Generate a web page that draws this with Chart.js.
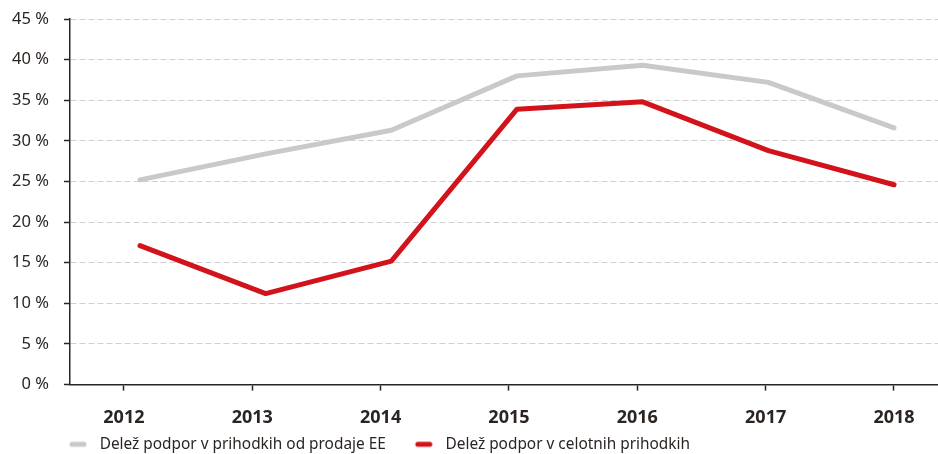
<!DOCTYPE html>
<html>
<head>
  <meta charset="utf-8">
  <title>Delež podpor</title>
  <script src="https://cdn.jsdelivr.net/npm/chart.js"></script>
  <style>
    html, body { margin: 0; padding: 0; background: #fff; }
    #wrap { width: 938px; height: 454px; }
  </style>
</head>
<body>
  <div id="wrap"><canvas id="myChart"></canvas></div>

  <script>
    // Podatki
    var years = ['2012', '2013', '2014', '2015', '2016', '2017', '2018'];
    var yTicks = [0, 5, 10, 15, 20, 25, 30, 35, 40, 45];
    var shareEE = [25.2, 28.4, 31.3, 38.0, 39.3, 37.2, 31.6];
    var shareTotal = [17.1, 11.2, 15.2, 33.9, 34.8, 28.8, 24.6];

    var textColor = '#2b2522';
    var grayColor = '#c8c9c8';
    var redColor = '#d3131b';

    function toPoints(arr) {
      return arr.map(function(v, i) { return { x: i, y: v }; });
    }

    // Oznaka v legendi: kratka zaobljena črta
    var MARK_W = 42;
    function legendMark(color) {
      var c = document.createElement('canvas');
      c.width = MARK_W;
      c.height = 8;
      var g = c.getContext('2d');
      g.strokeStyle = color;
      g.lineWidth = 5;
      g.lineCap = 'round';
      g.beginPath();
      g.moveTo(MARK_W - 20, 4);
      g.lineTo(MARK_W - 8, 4);
      g.stroke();
      return c;
    }

    // Nižja legenda, premaknjena levo in navzdol
    var legendShift = {
      id: 'legendShift',
      beforeLayout: function(chart) {
        var l = chart.legend;
        if (l && !l._patched) {
          var fit = l.fit;
          l.fit = function() { fit.call(this); this.height -= 6; };
          l._patched = true;
        }
      },
      afterLayout: function(chart) {
        var l = chart.legend;
        if (!l) return;
        l.left -= 30; l.right -= 30;
        l.top += 2; l.bottom += 2;
      }
    };

    var ctx = document.getElementById('myChart').getContext('2d');
    var myChart = new Chart(ctx, {
      type: 'line',
      data: {
        datasets: [{
          label: 'Delež podpor v prihodkih od prodaje EE',
          data: toPoints(shareEE),
          xAxisID: 'xData',
          borderColor: grayColor,
          backgroundColor: grayColor,
          borderWidth: 5,
          borderCapStyle: 'round',
          borderJoinStyle: 'round',
          pointRadius: 0,
          pointStyle: legendMark(grayColor),
          tension: 0
        }, {
          label: 'Delež podpor v celotnih prihodkih',
          data: toPoints(shareTotal),
          xAxisID: 'xData',
          borderColor: redColor,
          backgroundColor: redColor,
          borderWidth: 5,
          borderCapStyle: 'round',
          borderJoinStyle: 'round',
          pointRadius: 0,
          pointStyle: legendMark(redColor),
          tension: 0
        }]
      },
      plugins: [legendShift],
      options: {
        responsive: true,
        maintainAspectRatio: false,
        animation: false,
        layout: { padding: { top: 19, right: 0, left: 0, bottom: 0 } },
        plugins: {
          legend: {
            position: 'bottom',
            align: 'start',
            fullSize: false,
            labels: {
              usePointStyle: true,
              pointStyleWidth: MARK_W,
              boxHeight: 10,
              padding: 10,
              color: textColor,
              font: { family: 'Noto Sans', size: 15.4 }
            }
          },
          tooltip: { enabled: false }
        },
        scales: {
          x: {
            type: 'linear',
            position: 'bottom',
            min: -0.42,
            max: 6.343,
            afterBuildTicks: function(axis) {
              axis.ticks = years.map(function(y, i) { return { value: i }; });
            },
            afterFit: function(axis) { axis.height = 40; },
            grid: {
              drawOnChartArea: false,
              drawTicks: true,
              tickLength: 6,
              tickColor: textColor,
              tickWidth: 1.5
            },
            border: { display: true, color: textColor, width: 1.5 },
            ticks: {
              padding: 16,
              color: textColor,
              font: { family: 'Noto Sans', size: 18, weight: 'bold' },
              callback: function(value) { return years[value]; }
            }
          },
          xData: {
            type: 'linear',
            display: false,
            min: -0.557,
            max: 6.35
          },
          y: {
            min: 0,
            max: 45,
            afterBuildTicks: function(axis) {
              axis.ticks = yTicks.map(function(v) { return { value: v }; });
            },
            afterFit: function(axis) {
              axis.width = 70;
              axis.paddingTop = 0;
              axis.paddingBottom = 0;
            },
            grid: {
              color: '#d0d0d0',
              lineWidth: 1,
              drawTicks: true,
              tickLength: 6,
              tickColor: textColor,
              tickWidth: 1.5
            },
            border: { display: true, color: textColor, width: 1.5, dash: [6, 3] },
            ticks: {
              padding: 15,
              color: textColor,
              font: { family: 'Noto Sans', size: 16.5 },
              callback: function(value) { return value + ' %'; }
            }
          }
        }
      }
    });
  </script>
</body>
</html>
